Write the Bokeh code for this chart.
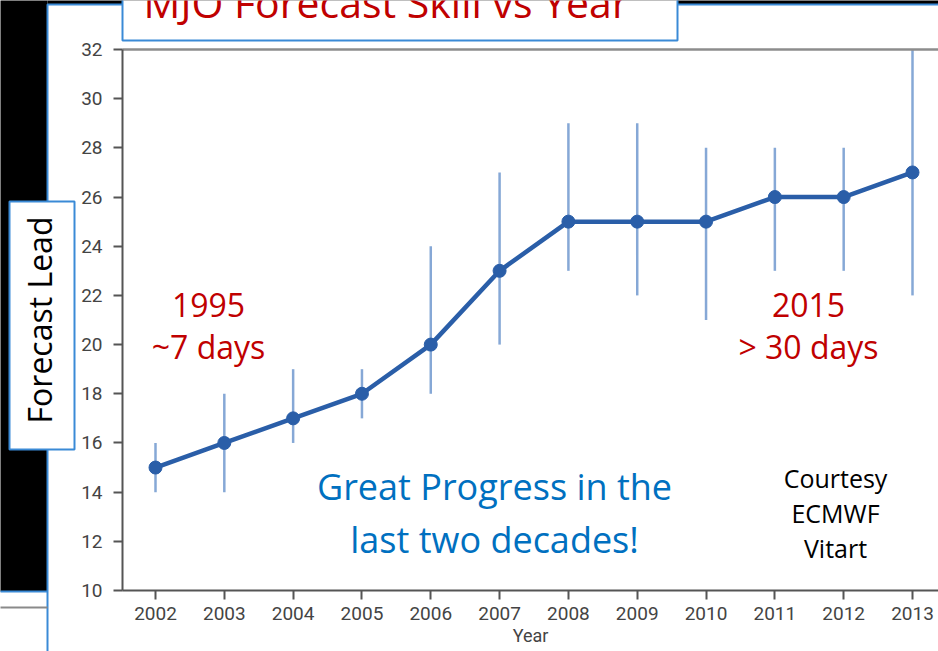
from bokeh.plotting import figure
from bokeh.models import Range1d, LinearAxis, FixedTicker, Label, ColumnDataSource
from bokeh.embed import file_html
from bokeh.resources import INLINE

# ---- data ----
years = [2002, 2003, 2004, 2005, 2006, 2007, 2008, 2009, 2010, 2011, 2012, 2013]
lead_days = [15, 16, 17, 18, 20, 23, 25, 25, 25, 26, 26, 27]
low_days = [14, 14, 16, 17, 18, 20, 23, 22, 21, 23, 23, 22]
high_days = [16, 18, 19, 19, 24, 27, 29, 29, 28, 28, 28, 32]
y_ticks = [10, 12, 14, 16, 18, 20, 22, 24, 26, 28, 30, 32]

title_text = "MJO Forecast Skill vs Year"
y_title = "Forecast Lead"
x_title = "Year"
left_note = ["1995", "~7 days"]
right_note = ["2015", "> 30 days"]
center_note = ["Great Progress in the", "last two decades!"]
credit_note = ["Courtesy", "ECMWF", "Vitart"]

# ---- styles ----
LINE_BLUE = "#2A5EA8"
BAR_BLUE = "#86A8D6"
RED = "#C00000"
TEXT_BLUE = "#0070C0"
BOX_BLUE = "#3A8AD6"
AXIS_GRAY = "#555555"
TICK_FONT = "Roboto"
SLIDE_FONT = "Open Sans"

W, H = 938, 651
# chart frame inside the canvas (pixels from the top-left of the canvas)
FL, FT, FB = 122, 49, 590
X0, X1, PX0, PX1 = years[0], years[-1], 155, 912
Y0, Y1 = y_ticks[0], y_ticks[-1]
xs = (X1 - X0) / (PX1 - PX0)
ys = (Y1 - Y0) / (FB - FT)
yr_range = Range1d(X0 - PX0 * xs, X0 + (W - PX0) * xs)
lead_range = Range1d(Y0 - (H - FB) * ys, Y1 + FT * ys)
x_left = X0 - (PX0 - FL) * xs

src = ColumnDataSource(dict(year=years, lead=lead_days, low=low_days, high=high_days))

p = figure(width=W, height=H, output_backend="svg", toolbar_location=None,
           x_range=Range1d(0, W), y_range=Range1d(H, 0),
           x_axis_location=None, y_axis_location=None,
           min_border=0, min_border_left=0, min_border_right=0,
           min_border_top=0, min_border_bottom=0,
           background_fill_color="white", border_fill_color="white",
           outline_line_color=None)
p.grid.visible = False
p.extra_x_ranges = {"yr": yr_range}
p.extra_y_ranges = {"lead": lead_range}

# ---- slide decorations ----
p.quad(left=[-10], right=[47], top=[-10], bottom=[591], fill_color="black", line_color=None)
p.quad(left=[47], right=[960], top=[-10], bottom=[4], fill_color="black", line_color=None)
p.quad(left=[47], right=[960], top=[4], bottom=[670], fill_color="white",
       line_color=BOX_BLUE, line_width=2)
p.quad(left=[-10], right=[47], top=[590], bottom=[592], fill_color=BOX_BLUE, line_color=None)
p.quad(left=[-10], right=[47], top=[606], bottom=[608], fill_color="#8a8a8a", line_color=None)
p.quad(left=[9], right=[74], top=[201], bottom=[449], fill_color="white",
       line_color=BOX_BLUE, line_width=2)
p.quad(left=[122], right=[677], top=[-30], bottom=[40], fill_color="white",
       line_color=BOX_BLUE, line_width=2)

def lab(x, baseline, text, size, color, font=SLIDE_FONT, align="center"):
    # text is anchored at the middle of its em box (ascent 1.069em, descent 0.293em)
    y = baseline - 0.388 * size
    p.add_layout(Label(x=x, y=y, text=text,
                       text_align=align, text_baseline="middle",
                       text_font=font, text_font_size=f"{size}px", text_color=color))

lab(143, 17, title_text, 41, RED, align="left")

# ---- data ----
kw = dict(source=src, x_range_name="yr", y_range_name="lead")
p.segment(x0="year", y0="low", x1="year", y1="high", line_color=BAR_BLUE,
          line_width=2.5, **kw)
p.line(x="year", y="lead", line_color=LINE_BLUE, line_width=4.5, **kw)
p.scatter(x="year", y="lead", size=13, fill_color=LINE_BLUE, line_color=LINE_BLUE, **kw)

# ---- axes ----
def style(ax):
    ax.axis_line_color = AXIS_GRAY
    ax.axis_line_width = 2
    ax.major_tick_line_color = AXIS_GRAY
    ax.major_tick_line_width = 2
    ax.major_tick_out = 9
    ax.major_tick_in = 0
    ax.minor_tick_line_color = None
    ax.major_label_text_font = TICK_FONT
    ax.major_label_text_font_size = "19px"
    ax.major_label_text_color = "#444444"

xaxis = LinearAxis(x_range_name="yr", y_range_name="lead", fixed_location=Y0,
                   bounds=(x_left, yr_range.end), ticker=FixedTicker(ticks=years),
                   axis_label=x_title)
style(xaxis)
xaxis.major_label_standoff = 7
xaxis.axis_label_text_font = TICK_FONT
xaxis.axis_label_text_font_size = "18px"
xaxis.axis_label_text_font_style = "normal"
xaxis.axis_label_text_color = "#444444"
xaxis.axis_label_standoff = 2
p.add_layout(xaxis, "below")

yaxis = LinearAxis(x_range_name="yr", y_range_name="lead", fixed_location=x_left,
                   bounds=(Y0, Y1), ticker=FixedTicker(ticks=y_ticks),
                   axis_label=y_title)
style(yaxis)
yaxis.major_label_standoff = 11
yaxis.axis_label_text_font = SLIDE_FONT
yaxis.axis_label_text_font_size = "32px"
yaxis.axis_label_text_font_style = "normal"
yaxis.axis_label_text_color = "black"
yaxis.axis_label_standoff = 17
p.add_layout(yaxis, "left")

top_axis = LinearAxis(x_range_name="yr", y_range_name="lead", fixed_location=Y1,
                      bounds=(x_left, yr_range.end), ticker=FixedTicker(ticks=[]),
                      axis_line_color="#8c8c8c", axis_line_width=2.5,
                      major_tick_line_color=None, minor_tick_line_color=None,
                      major_label_text_font_size="0px")
p.add_layout(top_axis, "above")

# ---- notes inside the chart ----
lab(208, 317, left_note[0], 32, RED)
lab(208, 358, left_note[1], 32, RED)
lab(808, 317, right_note[0], 32, RED)
lab(808, 358, right_note[1], 32, RED)
lab(494, 500, center_note[0], 36, TEXT_BLUE)
lab(494, 553, center_note[1], 36, TEXT_BLUE)
lab(835, 487, credit_note[0], 25, "black")
lab(835, 522, credit_note[1], 25, "black")
lab(835, 557, credit_note[2], 25, "black")

open("out.html", "w").write(file_html(p, INLINE))
